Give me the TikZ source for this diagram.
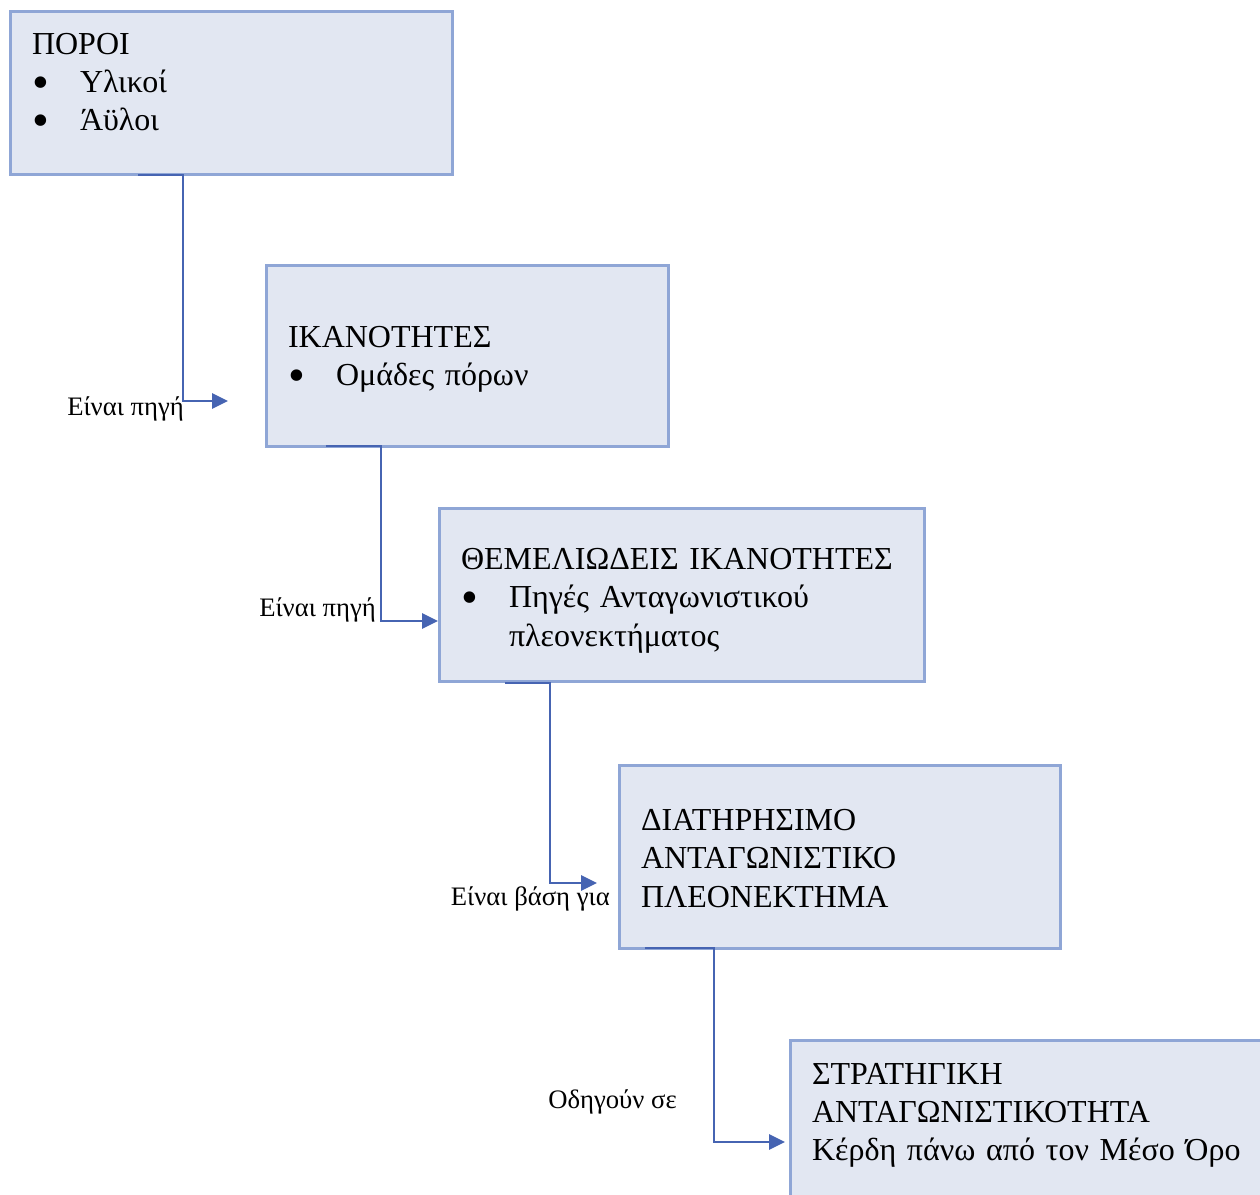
\documentclass[tikz,border=0pt]{standalone}
\usepackage{fontspec}
\usepackage{graphicx}
\setmainfont{Liberation Serif}
\usetikzlibrary{arrows.meta}
\definecolor{boxline}{RGB}{143,166,214}
\definecolor{boxfill}{RGB}{226,231,242}
\definecolor{linkblue}{RGB}{70,100,178}
\newcommand{\bul}{\makebox[36pt][l]{\hspace*{0.5pt}\smash{\raisebox{-4.4pt}{\scalebox{1.5}{\textbullet}}}}}
\newcommand{\toppad}[1]{\mbox{}\\[-#1]}
\tikzset{
  blok/.style={draw=boxline, fill=boxfill, line width=2.25pt, anchor=north west, outer sep=0pt,
    align=left, inner xsep=16.5pt, inner ysep=0pt, font=\fontsize{24}{28.8}\selectfont},
  conn/.style={draw=linkblue, line width=1.5pt, -{Triangle[length=12pt,width=11.5pt]}},
  lab/.style={anchor=base east, inner sep=0pt, font=\fontsize{20}{24}\selectfont}
}
\begin{document}
\begin{tikzpicture}[x=0.75pt,y=-0.75pt]
    \clip (0,0) rectangle (1260,1195);
    \fill[white] (0,0) rectangle (1260,1195);
    % boxes
    \node[blok, text width=298.5pt, minimum height=122.25pt] (poroi) at (10,12)
        {ΠΟΡΟΙ\\ \bul Υλικοί\\ \bul Άϋλοι\\[-0.4\baselineskip]\mbox{}};
    \node[blok, text width=268.5pt, minimum height=135.75pt] (ikan) at (266,265)
        {\toppad{6.9pt}ΙΚΑΝΟΤΗΤΕΣ\\ \bul Ομάδες πόρων};
    \node[blok, text width=330.75pt, minimum height=129.75pt] (themel) at (439,508)
        {\toppad{3.9pt}ΘΕΜΕΛΙΩΔΕΙΣ ΙΚΑΝΟΤΗΤΕΣ\\ \bul Πηγές Ανταγωνιστικού\\ \hspace*{36pt}πλεονεκτήματος};
    \node[blok, text width=297.75pt, minimum height=137.25pt] (diat) at (619,765)
        {\toppad{9.9pt}ΔΙΑΤΗΡΗΣΙΜΟ\\ ΑΝΤΑΓΩΝΙΣΤΙΚΟ\\ ΠΛΕΟΝΕΚΤΗΜΑ};
    \node[blok, text width=345pt, minimum height=138.75pt] (strat) at (790,1040)
        {ΣΤΡΑΤΗΓΙΚΗ\\ ΑΝΤΑΓΩΝΙΣΤΙΚΟΤΗΤΑ\\ Κέρδη πάνω από τον Μέσο Όρο\\[2pt]\mbox{}};
    % free ends of the links
    \coordinate (e1) at (228,401);
    \coordinate (e2) at (438,621);
    \coordinate (e3) at (597,883);
    \coordinate (e4) at (785,1142);
    % links
    \draw[conn] ([shift={(128,0)}]poroi.south west) -- ++(45,0) |- (e1);
    \draw[conn] ([shift={(60,0)}]ikan.south west) -- ++(55,0) |- (e2);
    \draw[conn] ([shift={(66,2)}]themel.south west) -- ++(45,0) |- (e3);
    \draw[conn] ([shift={(26,0)}]diat.south west) -- ++(69,0) |- (e4);
    % labels
    \node[lab] (l1) at (184,415) {Είναι πηγή};
    \node[lab] (l2) at (376,616) {Είναι πηγή};
    \node[lab] (l3) at (610,905) {Είναι βάση για};
    \node[lab] (l4) at (677,1108) {Οδηγούν σε};
\end{tikzpicture}
\end{document}
